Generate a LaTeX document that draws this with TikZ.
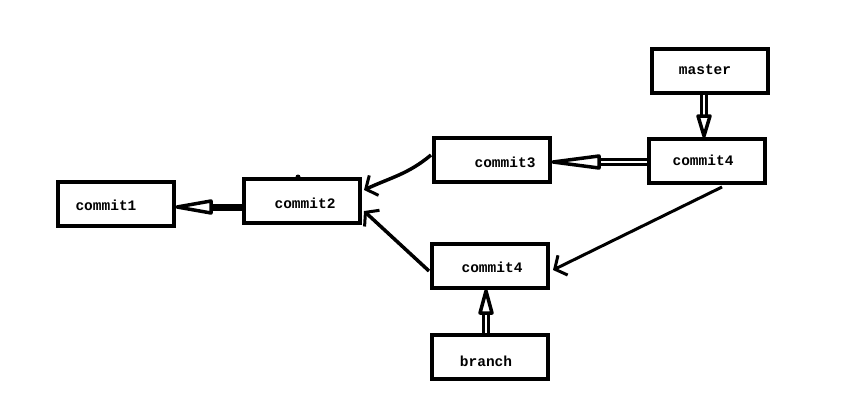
\documentclass[tikz,border=0pt]{standalone}
\usepackage{fontspec}
\setmonofont{Liberation Mono}
\usetikzlibrary{arrows.meta,calc}
\begin{document}
\begin{tikzpicture}[x=1pt,y=-1pt,
  box/.style={draw=black,line width=4pt,minimum width=116pt,minimum height=44pt,inner sep=0pt},
  lbl/.style={font=\ttfamily\bfseries\fontsize{14.5}{14.5}\selectfont,inner sep=0pt},
  ptr/.style={line width=3.5pt,-{Straight Barb[length=9pt,width=22pt,line width=3pt]}},
  dbl/.style={line width=2.8pt,double,double distance=2pt},
  head/.style={draw=black,fill=white,line width=3.5pt,line join=round}]
\useasboundingbox (0,0) rectangle (842,401);
\fill[white] (0,0) rectangle (842,401);
% boxes
\node[box] (c1) at (116,204) {};
\node[box] (c2) at (302,201) {};
\node[box] (c3) at (492,160) {};
\node[box] (c4t) at (707,161) {};
\node[box] (ms) at (710,71) {};
\node[box] (c4b) at (490,266) {};
\node[box] (br) at (490,357) {};
% labels
\node[lbl] (t1) at (106,205) {commit1};
\node[lbl] (t2) at (305,203) {commit2};
\node[lbl] (t3) at (505,162) {commit3};
\node[lbl] (t4t) at (703,160) {commit4};
\node[lbl] (tm) at (705,70) {master};
\node[lbl] (t4b) at (492,267) {commit4};
\node[lbl] (tb) at (486,361) {branch};
% small dot on commit2
\fill ($(c2.north)+(-4,0)$) circle (2.5pt);
% coordinates for free connector ends
\coordinate (a3) at (431,155);
\coordinate (e3) at (364,190);
\coordinate (a4b) at (429,271);
\coordinate (e4b) at (364,211);
\coordinate (a4t) at (722,187);
\coordinate (e4t) at (553,270);
% commit2 -> commit1 (thick, hollow head)
\coordinate (p1) at ($(c1.east)+(1,3)$);
\draw[line width=7pt] (p1-|c2.west) -- ($(p1)+(30,0)$);
\draw[head] (p1) -- ($(p1)+(34,-6)$) -- ($(p1)+(34,6)$) -- cycle;
% plain pointers
\draw[ptr] (a3) to[out=220,in=25] (e3);
\draw[ptr] (a4b) -- (e4b);
\draw[ptr,line width=3pt] (a4t) -- (e4t);
% commit4 -> commit3 (double)
\coordinate (p3) at ($(c3.east)+(1,2)$);
\draw[dbl] (p3-|c4t.west) -- ($(p3)+(42,0)$);
\draw[head] (p3) -- ($(p3)+(46,-6)$) -- ($(p3)+(46,6)$) -- cycle;
% master -> commit4
\coordinate (pm) at ($(c4t.north)+(-3,-1)$);
\draw[dbl] (pm|-ms.south) -- ($(pm)+(0,-18)$);
\draw[head] (pm) -- ($(pm)+(-6,-20)$) -- ($(pm)+(6,-20)$) -- cycle;
% branch -> commit4
\coordinate (pb) at ($(c4b.south)+(-4,1)$);
\draw[dbl] (pb|-br.north) -- ($(pb)+(0,20)$);
\draw[head] (pb) -- ($(pb)+(-6,22)$) -- ($(pb)+(6,22)$) -- cycle;
\end{tikzpicture}
\end{document}
